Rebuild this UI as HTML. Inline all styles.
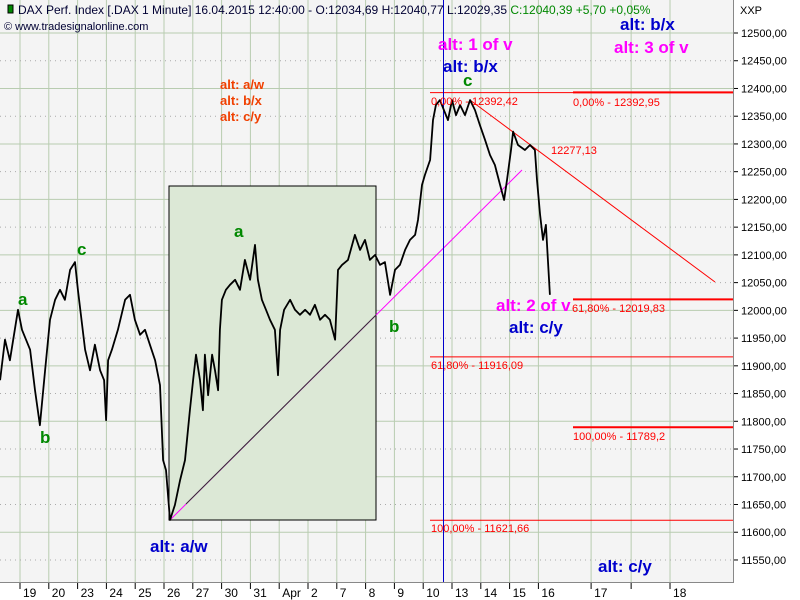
<!DOCTYPE html>
<html><head><meta charset="utf-8"><style>
html,body{margin:0;padding:0;background:#fff;}
svg{display:block;font-family:"Liberation Sans",sans-serif;}
.big{font-size:17px;font-weight:bold;}
.fib{font-size:11px;fill:#f00;}
</style></head><body>
<svg id="chart" width="800" height="600" xmlns="http://www.w3.org/2000/svg">
<rect x="0" y="0" width="800" height="600" fill="#fff"/>
<rect x="0" y="0" width="733" height="582" fill="#f4f4f4"/>
<g id="grid"></g>
<rect x="169" y="186" width="207" height="334" fill="#dce8d6" stroke="#000" stroke-width="1"/>
<g id="fib"></g>
<g id="series"></g>
<g id="axes"></g>
<g id="ann"></g>
</svg>
<script>
const xs=[-0.69,-0.52,-0.35,-0.07,0.07,0.35,0.52,0.69,0.87,1.04,1.22,1.39,1.56,1.74,1.91,2.01,2.26,2.43,2.60,2.78,2.92,2.99,3.06,3.19,3.40,3.65,3.82,3.99,4.17,4.34,4.51,4.69,4.86,4.97,5.07,5.21,5.38,5.56,5.73,5.90,6.01,6.11,6.25,6.35,6.42,6.53,6.67,6.77,6.88,6.94,7.01,7.15,7.29,7.47,7.64,7.81,7.99,8.16,8.26,8.40,8.54,8.68,8.85,8.96,9.03,9.17,9.38,9.55,9.72,9.90,10.07,10.24,10.42,10.59,10.76,10.94,11.04,11.18,11.39,11.63,11.81,11.98,12.15,12.33,12.50,12.67,12.85,13.02,13.19,13.37,13.54,13.72,13.82,13.96,14.06,14.24,14.34,14.44,14.58,14.72,14.86,15.00,15.14,15.28,15.45,15.63,15.80,15.97,16.15,16.32,16.49,16.67,16.81,16.91,17.05,17.12,17.29,17.53,17.71,17.88,17.95,18.06,18.16,18.26,18.33,18.40];
const prices=[11874,11947,11910,12001,11965,11929,11856,11793,11892,11983,12019,12037,12019,12073,12087,12037,11929,11892,11938,11892,11874,11802,11910,11929,11965,12019,12028,11983,11956,11965,11938,11910,11865,11730,11712,11622,11649,11694,11730,11820,11874,11920,11874,11820,11920,11847,11920,11892,11856,11965,12019,12037,12046,12055,12037,12091,12055,12118,12055,12019,12001,11983,11965,11883,11965,12001,12019,12001,11992,12001,11992,12010,11983,11992,11983,11947,12073,12082,12091,12136,12109,12127,12091,12100,12082,12087,12028,12073,12082,12109,12127,12136,12163,12226,12244,12271,12343,12370,12379,12361,12343,12379,12352,12370,12352,12379,12361,12334,12307,12280,12262,12226,12199,12235,12289,12322,12298,12289,12298,12289,12235,12172,12127,12154,12091,12028];
const tickPos=[0,1,2,3,4,5,6,7,8,9,10,11,12,13,14,15,16,17,18,19.83,21.22,22.57];
const tickLabels=["19","20","23","24","25","26","27","30","31","Apr","2","7","8","9","10","13","14","15","16","17","","18"];
const priceTicks=[12500,12450,12400,12350,12300,12250,12200,12150,12100,12050,12000,11950,11900,11850,11800,11750,11700,11650,11600,11550];
const fibLevels=[12392.42,12392.95,12019.83,11916.09,11789.2,11621.66];
const NS="http://www.w3.org/2000/svg";
const X=t=>20+t*28.8, Y=p=>33+(12500-p)*0.5547;
function mk(tag,attrs,parent,txt){const e=document.createElementNS(NS,tag);for(const k in attrs)e.setAttribute(k,attrs[k]);if(txt!==undefined)e.textContent=txt;parent.appendChild(e);return e;}
const grid=document.getElementById('grid'),axes=document.getElementById('axes'),ser=document.getElementById('series'),fib=document.getElementById('fib'),ann=document.getElementById('ann');
tickPos.forEach((t,i)=>{
 const gl=mk('line',{x1:X(t),x2:X(t),y1:0,y2:582,stroke:'#b8ccb0','stroke-width':1},grid);
 
 
 const tk=mk('line',{x1:X(t),x2:X(t),y1:583,y2:589,stroke:'#000'},axes);
 
 
 const lb=mk('text',{x:X(t)+3,y:597,'font-size':12,fill:'#000'},axes,tickLabels[i]);
 
 
});
priceTicks.forEach(p=>{
 const solid=(p%100===0);
 const gl=mk('line',{x1:0,x2:733,y1:Y(p),y2:Y(p),stroke:solid?'#b8ccb0':'#aaa','stroke-width':1,'stroke-dasharray':solid?'':'1,4'},grid);
 
 
 const tk=mk('line',{x1:733,x2:738,y1:Y(p),y2:Y(p),stroke:'#000'},axes);
 
 
 const lb=mk('text',{x:741,y:Y(p)+4,'font-size':11,fill:'#000'},axes,p.toFixed(2).replace('.',','));
 
 
});
const ax1=mk('line',{x1:0,x2:734,y1:582.5,y2:582.5,stroke:'#888'},axes);


const ax2=mk('line',{x1:733.5,x2:733.5,y1:0,y2:583,stroke:'#888'},axes);


const xxp=mk('text',{x:740,y:14,'font-size':11},axes,'XXP');


const fibSpec=[[0,430,733,1],[1,573,733,2],[2,573,733,2],[3,430,733,1],[4,573,733,2],[5,430,733,1]];
fibSpec.forEach(f=>{const l=mk('line',{x1:f[1],x2:f[2],y1:Y(fibLevels[f[0]]),y2:Y(fibLevels[f[0]]),stroke:'#f00','stroke-width':f[3]},fib);
 
 });
const tl=mk('line',{x1:X(15.63),y1:Y(12379),x2:715,y2:282,stroke:'#f00','stroke-width':1},fib);


const ml=mk('line',{x1:170,y1:520,x2:522,y2:170,stroke:'#f0f','stroke-width':1},fib);


const ml2=mk('line',{x1:186,y1:504,x2:376,y2:315,stroke:'#333','stroke-width':1},fib);


const vl=mk('line',{x1:443.5,x2:443.5,y1:0,y2:582,stroke:'#00c','stroke-width':1},fib);


let d='';xs.forEach((t,i)=>{d+=(i?'L':'M')+X(t).toFixed(1)+','+Y(prices[i]).toFixed(1);});
const pl=mk('path',{d:d,fill:'none',stroke:'#000','stroke-width':1.8,'stroke-linejoin':'round'},ser);


const A=[
 ['alt: b/x',620,30,'#00c','big'],['alt: 3 of v',614,53,'#f0f','big'],
 ['alt: 1 of v',438,50,'#f0f','big'],['alt: b/x',443,72,'#00c','big'],
 ['c',463,86,'#080','big'],['a',18,305,'#080','big'],['b',40,443,'#080','big'],
 ['c',77,255,'#080','big'],['a',234,237,'#080','big'],['b',389,332,'#080','big'],
 ['alt: a/w',150,552,'#00c','big'],['alt: 2 of v',496,311,'#f0f','big'],
 ['alt: c/y',509,333,'#00c','big'],['alt: c/y',598,572,'#00c','big']];
A.forEach(a=>{const t=mk('text',{x:a[1],y:a[2],fill:a[3],class:a[4]},ann,a[0]);
 
 });
[['alt: a/w',220,89],['alt: b/x',220,105],['alt: c/y',220,121]].forEach(a=>{
 const t=mk('text',{x:a[1],y:a[2],fill:'#f04000','font-size':13,'font-weight':'bold'},ann,a[0]);
 
 });
[['0,00% - 12392,42',431,105],['0,00% - 12392,95',573,106],['12277,13',551,154],['61,80% - 12019,83',572,312],['61,80% - 11916,09',431,369],['100,00% - 11789,2',573,440],['100,00% - 11621,66',431,532]].forEach(a=>{
 const t=mk('text',{x:a[1],y:a[2],class:'fib'},ann,a[0]);
 
 });
const h1=mk('text',{x:18,y:14,'font-size':12,fill:'#000033'},ann,'DAX Perf. Index [.DAX  1 Minute] 16.04.2015 12:40:00 - O:12034,69 H:12040,77 L:12029,35 ');


mk('tspan',{fill:'#080'},h1,'C:12040,39 +5,70 +0,05%');
const ic=mk('rect',{x:8,y:5,width:5,height:8,fill:'#080',stroke:'#000'},ann);


const h2=mk('text',{x:4,y:30,'font-size':11,fill:'#000033'},ann,'© www.tradesignalonline.com');


</script>
</body></html>
